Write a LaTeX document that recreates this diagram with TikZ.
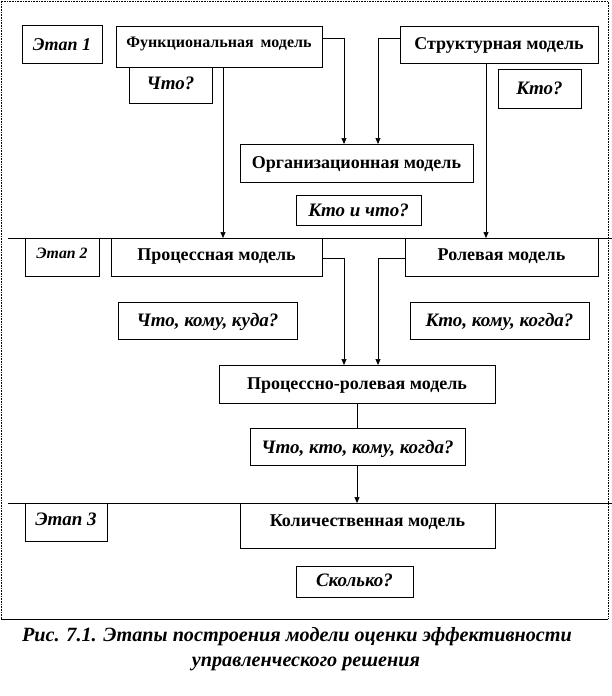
\documentclass[tikz,border=0pt]{standalone}
\usepackage{fontspec}
\setmainfont{Liberation Serif}
\usetikzlibrary{arrows.meta}
\begin{document}
\begin{tikzpicture}[x=1pt,y=-1pt,
  every node/.style={inner sep=0pt, outer sep=0pt},
  bx/.style={draw=black, line width=0.8pt, anchor=north west},
  mdl/.style={bx, font=\fontsize{18}{21}\selectfont\bfseries},
  qst/.style={bx, font=\fontsize{19}{22}\selectfont\bfseries\itshape},
  conn/.style={line width=0.7pt, -{Triangle[width=5pt,length=6pt]}},
  plain/.style={line width=0.7pt}
]
\useasboundingbox (0,0) rectangle (612,696);
% frame
\draw[densely dotted, line width=0.6pt] (1,619) -- (1,1) -- (608,1) -- (608,619);
\draw[line width=0.8pt] (1,619) -- (608,619);
% stage separators
\draw[line width=0.8pt] (8,238) -- (612,238);
\draw[line width=0.8pt] (8,503) -- (612,503);

% Stage 1
\node[qst, font=\fontsize{18}{21}\selectfont\bfseries\itshape, minimum width=80pt, minimum height=38pt, text height=25pt, text depth=13pt] (e1) at (22,25) {Этап 1};
\node[mdl, font=\fontsize{16}{19}\selectfont\bfseries, minimum width=206pt, minimum height=41pt, text height=21pt, text depth=20pt] (fm) at (116,26) {Функциональная\hspace{7pt}модель};
\node[qst, minimum width=83pt, minimum height=36pt, text height=22pt, text depth=14pt] (q1) at (129,67) {Что?};
\node[mdl, minimum width=198pt, minimum height=37pt, text height=23pt, text depth=14pt] (sm) at (400,26) {Структурная модель};
\node[qst, minimum width=83pt, minimum height=39pt, text height=25pt, text depth=14pt] (q2) at (498,69) {Кто?};
\node[mdl, minimum width=233pt, minimum height=38pt, text height=24pt, text depth=14pt] (om) at (240,144) {Организационная модель};
\node[qst, minimum width=125pt, minimum height=30pt, text height=21pt, text depth=9pt] (q3) at (296,195) {Кто и что?};

% Stage 2
\node[qst, font=\fontsize{15.8}{18}\selectfont\bfseries\itshape, minimum width=74pt, minimum height=38pt, text height=20pt, text depth=18pt] (e2) at (25,238) {Этап 2};
\node[mdl, minimum width=211pt, minimum height=38pt, text height=22pt, text depth=16pt] (pm) at (111,238) {Процессная модель};
\node[mdl, minimum width=193pt, minimum height=38pt, text height=22pt, text depth=16pt] (rm) at (405,238) {Ролевая модель};
\node[qst, minimum width=179pt, minimum height=37pt, text height=24pt, text depth=13pt] (q4) at (118,302) {Что, кому, куда?};
\node[qst, minimum width=179pt, minimum height=37pt, text height=24pt, text depth=13pt] (q5) at (410,302) {Кто, кому, когда?};
\node[mdl, minimum width=276pt, minimum height=38pt, text height=24pt, text depth=14pt] (prm) at (219,365) {Процессно-ролевая модель};
\node[qst, minimum width=215pt, minimum height=37pt, text height=25pt, text depth=12pt] (q6) at (250,428) {Что, кто, кому, когда?};

% Stage 3
\node[qst, minimum width=82pt, minimum height=38pt, text height=22pt, text depth=16pt] (e3) at (25,503) {Этап 3};
\node[mdl, minimum width=255pt, minimum height=45pt, text height=23pt, text depth=22pt] (km) at (240,503) {Количественная модель};
\node[qst, minimum width=117pt, minimum height=31pt, text height=20pt, text depth=11pt] (q7) at (296,566) {Сколько?};

% connectors
\coordinate (c1) at (223,238);
\draw[conn] (fm.south west -| c1) -- (pm.north west -| c1);
\draw[conn] (fm.east |- 0,38) -| (om.north west -| 344,0);
\draw[conn] (sm.west |- 0,38) -| (om.north west -| 378,0);
\draw[conn] (sm.south west -| 486,0) -- (rm.north west -| 486,0);
\draw[conn] (pm.east |- 0,258) -| (prm.north west -| 344,0);
\draw[conn] (rm.west |- 0,258) -| (prm.north west -| 378,0);
\draw[plain] (prm.south west -| 357,0) -- (q6.north west -| 357,0);
\draw[conn] (q6.south west -| 357,0) -- (km.north west -| 357,0);

% caption
\node[font=\fontsize{20.2}{24}\selectfont\bfseries\itshape] (cap1) at (297,637) {Рис. 7.1. Этапы построения модели оценки эффективности};
\node[font=\fontsize{20.2}{24}\selectfont\bfseries\itshape] (cap2) at (306,664) {управленческого решения};
\end{tikzpicture}
\end{document}
